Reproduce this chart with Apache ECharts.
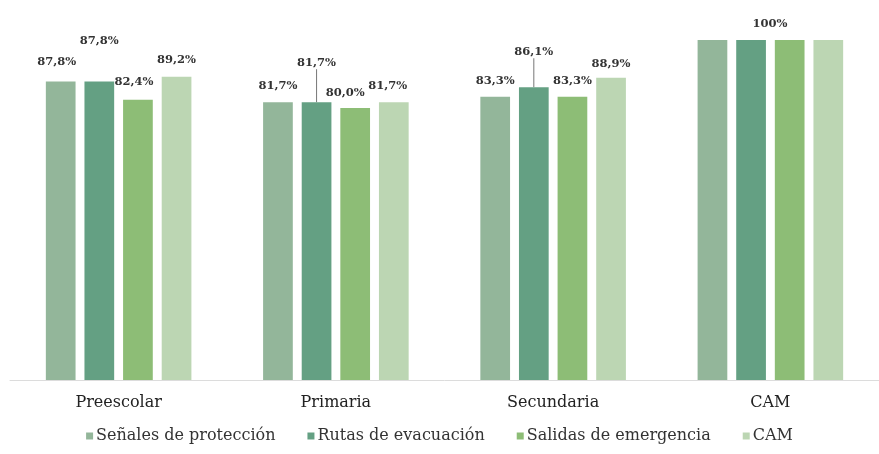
<!DOCTYPE html>
<html><head><meta charset="utf-8">
<script src="https://cdn.jsdelivr.net/npm/echarts@6/dist/echarts.min.js"></script>
<style>html,body{margin:0;padding:0;background:#fff}#c{width:879px;height:454px}</style>
</head><body><div id="c"></div>
<script>
const categories = ['Preescolar', 'Primaria', 'Secundaria', 'CAM'];
const seriesNames = ['Señales de protección', 'Rutas de evacuación', 'Salidas de emergencia', 'CAM'];
const senales = [87.8, 81.7, 83.3, 100];
const rutas = [87.8, 81.7, 86.1, 100];
const salidas = [82.4, 80.0, 83.3, 100];
const cam = [89.2, 81.7, 88.9, 100];
const valueLists = [senales, rutas, salidas, cam];

const colors = ['#93b69a', '#64a083', '#8dbd76', '#bcd6b3'];
// label offsets [dx, dy] per series per category (style only)
const offs = [
  [[-4,-8],[0,-5],[0,-5],null],
  [[0,-29],[0,-28],[0,-24],[19,-5]],
  [[-4,-7],[-10,-4],[0,-5],null],
  [[0,-6],[-6,-5],[0,-3],null]
];
const leader = [[false,false,false,false],[false,true,true,false],[false,false,false,false],[false,false,false,false]];
function fmt(v){ return v === 100 ? '100%' : v.toFixed(1).replace('.', ',') + '%'; }
const FONT = 'DejaVu Serif, serif';

const series = valueLists.map((vals, si) => ({
  name: seriesNames[si],
  type: 'bar',
  barGap: '30%',
  barCategoryGap: '33%',
  itemStyle: { color: colors[si] },
  data: vals.map((v, ci) => ({
    value: v,
    label: { show: offs[si][ci] !== null },
    labelLine: { show: leader[si][ci], lineStyle: { color: '#777', width: 1 }, length2: 0 }
  })),
  label: {
    position: 'top',
    distance: 5,
    formatter: p => fmt(p.value),
    fontFamily: FONT,
    fontWeight: 'bold',
    fontSize: 11.5,
    color: '#333'
  },
  labelLayout: function (p) {
    const o = offs[p.seriesIndex][p.dataIndex];
    if (!o) return {};
    return { dx: o[0], dy: o[1] };
  }
}));

const chart = echarts.init(document.getElementById('c'));
chart.setOption({
  animation: false,
  color: colors,
  grid: { left: 10, right: 0, top: 40, bottom: 74 },
  xAxis: {
    type: 'category',
    data: categories,
    axisLine: { lineStyle: { color: '#dcdcdc' } },
    axisTick: { show: false },
    axisLabel: { fontFamily: FONT, fontSize: 16, color: '#222', margin: 15 }
  },
  yAxis: { type: 'value', min: 0, max: 100, show: false, splitLine: { show: false } },
  legend: {
    bottom: 5,
    left: 'center',
    icon: 'rect',
    itemWidth: 7,
    itemHeight: 7,
    itemGap: 32,
    textStyle: { fontFamily: FONT, fontSize: 16, color: '#333', padding: [0,0,0,-2] },
    data: seriesNames
  },
  series: series
});
</script>
</body></html>
